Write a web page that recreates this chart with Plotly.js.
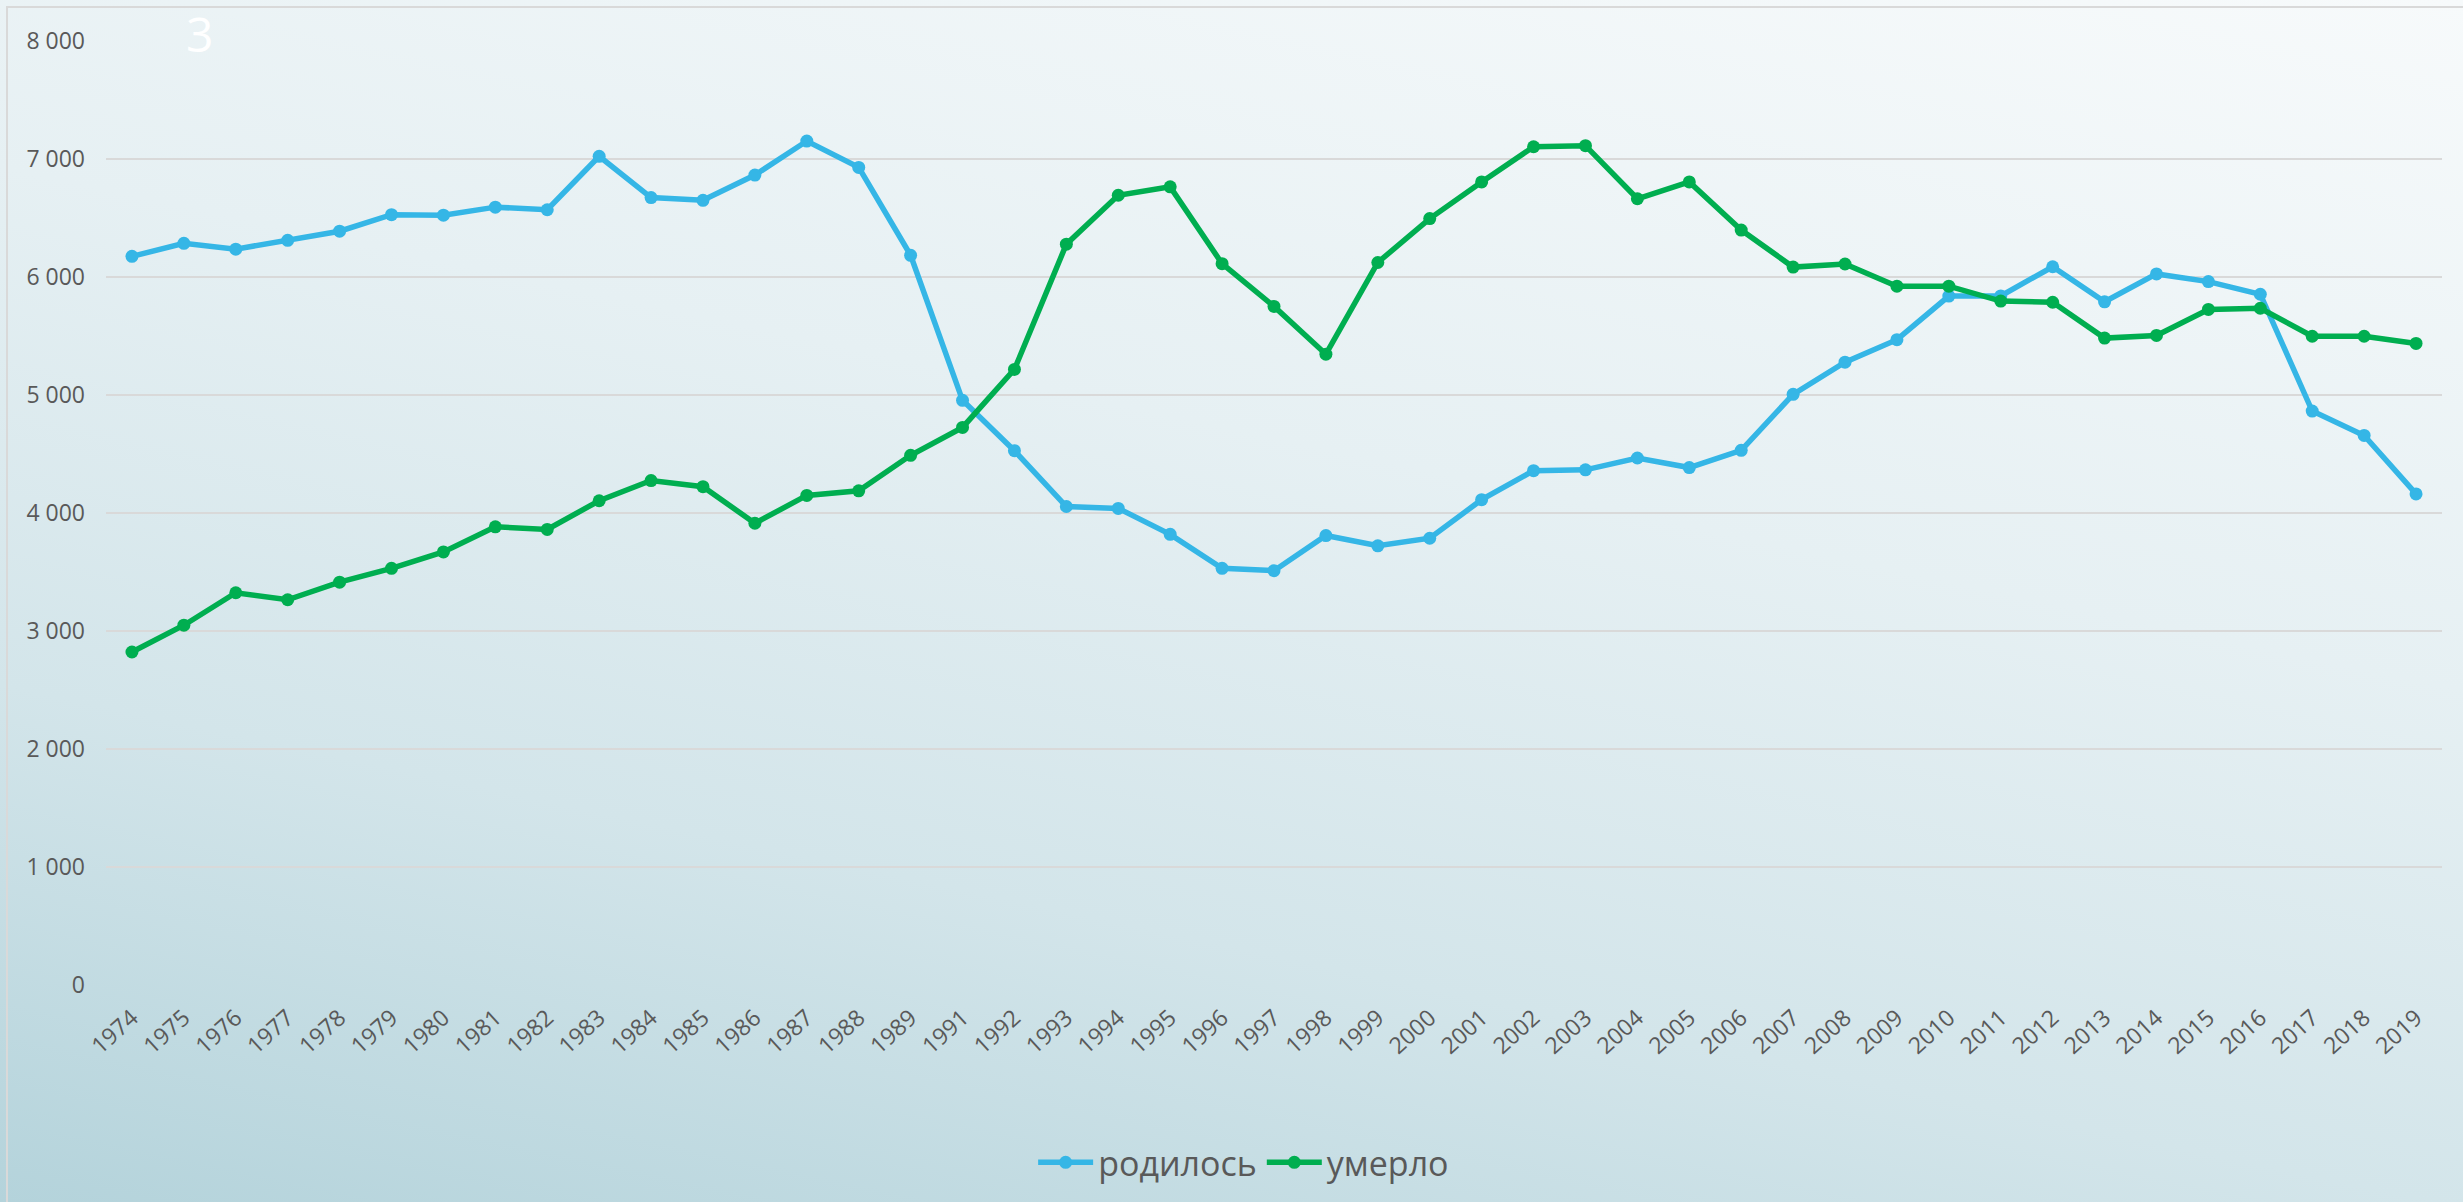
<!DOCTYPE html>
<html>
<head>
<meta charset="utf-8">
<script src="https://cdn.plot.ly/plotly-3.0.1.min.js"></script>
<style>
  html, body { margin: 0; padding: 0; width: 2463px; height: 1202px; overflow: hidden; }
  body { background: linear-gradient(192deg, #f7fafb 0%, #e6f0f3 40%, #d3e5ea 70%, #b4d3db 100%); }
  #frame { position: absolute; left: 6px; top: 6px; width: 2470px; height: 1210px; border-left: 2px solid #d9d9d9; border-top: 2px solid #d9d9d9; box-sizing: border-box; pointer-events: none; }
  #chart { position: absolute; left: 0; top: 0; width: 2463px; height: 1202px; }
</style>
</head>
<body>
<div id="frame"></div>
<div id="chart"></div>
<script>
const years = ["1974","1975","1976","1977","1978","1979","1980","1981","1982","1983","1984","1985","1986","1987","1988","1989","1991","1992","1993","1994","1995","1996","1997","1998","1999","2000","2001","2002","2003","2004","2005","2006","2007","2008","2009","2010","2011","2012","2013","2014","2015","2016","2017","2018","2019"];

const born = [6175,6285,6236,6311,6388,6528,6524,6592,6570,7023,6673,6650,6864,7152,6929,6184,4955,4528,4055,4039,3819,3531,3511,3809,3722,3786,4113,4359,4366,4466,4385,4531,5006,5278,5469,5838,5840,6087,5790,6026,5961,5854,4864,4657,4162];

const died = [2822,3049,3324,3265,3414,3531,3670,3883,3861,4104,4275,4223,3913,4149,4188,4489,4725,5217,6278,6693,6764,6113,5751,5346,6123,6495,6806,7104,7113,6663,6806,6398,6084,6110,5922,5922,5796,5786,5482,5505,5725,5735,5498,5498,5437];

const seriesNames = ["родилось", "умерло"];
const yTicks = [0,1000,2000,3000,4000,5000,6000,7000,8000];
const yTickText = ["0","1 000","2 000","3 000","4 000","5 000","6 000","7 000","8 000"];
const slideNumber = "3";

const FONT = "'Open Sans', 'Noto Sans', sans-serif";

const traces = [
  { x: years, y: born, name: seriesNames[0], type: "scatter", mode: "lines+markers",
    line: { color: "#35b6e6", width: 5.5 }, marker: { color: "#35b6e6", size: 13 } },
  { x: years, y: died, name: seriesNames[1], type: "scatter", mode: "lines+markers",
    line: { color: "#00ae50", width: 5.5 }, marker: { color: "#00ae50", size: 13 } }
];

const layout = {
  width: 2463, height: 1202,
  paper_bgcolor: "rgba(0,0,0,0)", plot_bgcolor: "rgba(0,0,0,0)",
  margin: { l: 106, r: 21, t: 41, b: 215.5, pad: 0 },
  font: { family: FONT, color: "#595959", size: 23 },
  showlegend: true,
  legend: { orientation: "h", x: 0.487, xanchor: "center", y: -0.187, yanchor: "middle",
            font: { family: FONT, size: 34, color: "#595959" }, bgcolor: "rgba(0,0,0,0)",
            itemwidth: 55, tracegroupgap: 0 },
  xaxis: { type: "category", range: [-0.5, years.length - 0.5], showgrid: false, zeroline: false,
           showline: false, ticks: "", tickangle: -42, ticklabelstandoff: 14,
           tickfont: { family: FONT, size: 23, color: "#595959" } },
  yaxis: { range: [0, 8000], tickvals: yTicks, ticktext: yTickText, showgrid: true,
           gridcolor: "#d9d9d9", gridwidth: 2, zeroline: false, showline: false, ticks: "",
           ticklabelstandoff: 20, tickfont: { family: FONT, size: 23, color: "#595959" } },
  annotations: [
    { text: slideNumber, xref: "paper", yref: "paper", x: 0.0402, y: 1.0433, xanchor: "center", yanchor: "top",
      showarrow: false, borderpad: 0, font: { family: FONT, size: 48, color: "#ffffff" } }
  ]
};

Plotly.newPlot("chart", traces, layout, { staticPlot: true, displayModeBar: false });
</script>
</body>
</html>
